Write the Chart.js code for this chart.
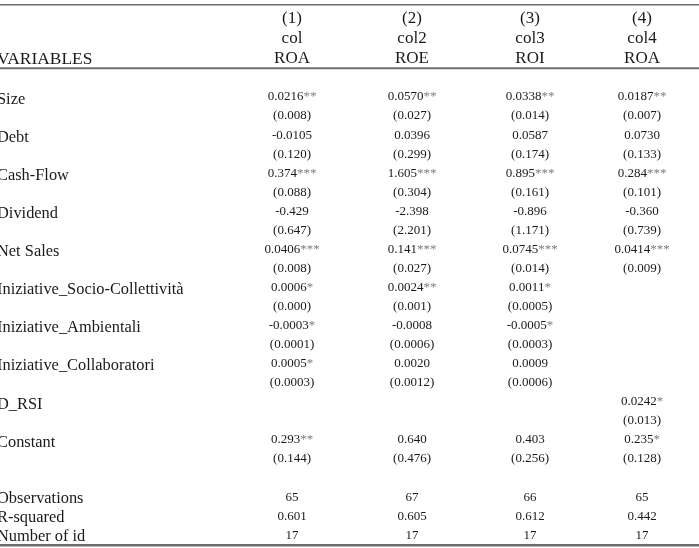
<!DOCTYPE html>
<html>
<head>
<meta charset="utf-8">
<script src="https://cdn.jsdelivr.net/npm/chart.js@4/dist/chart.umd.min.js"></script>
<style>
  html, body { margin: 0; padding: 0; background: #ffffff; }
  #wrap { width: 699px; height: 548px; position: relative; }
</style>
</head>
<body>
<div id="wrap"><canvas id="c"></canvas></div>
<script>
// ---------- DATA ----------
const variables = ['Size', 'Debt', 'Cash-Flow', 'Dividend', 'Net Sales',
  'Iniziative_Socio-Collettività', 'Iniziative_Ambientali', 'Iniziative_Collaboratori',
  'D_RSI', 'Constant'];
const headerVarLabel = 'VARIABLES';
const colNumbers = ['(1)', '(2)', '(3)', '(4)'];
const colNames = ['col', 'col2', 'col3', 'col4'];
const depVars = ['ROA', 'ROE', 'ROI', 'ROA'];

const coef1 = ['0.0216', '-0.0105', '0.374', '-0.429', '0.0406', '0.0006', '-0.0003', '0.0005', '', '0.293'];
const stars1 = ['**', '', '***', '', '***', '*', '*', '*', '', '**'];
const se1 = ['(0.008)', '(0.120)', '(0.088)', '(0.647)', '(0.008)', '(0.000)', '(0.0001)', '(0.0003)', '', '(0.144)'];

const coef2 = ['0.0570', '0.0396', '1.605', '-2.398', '0.141', '0.0024', '-0.0008', '0.0020', '', '0.640'];
const stars2 = ['**', '', '***', '', '***', '**', '', '', '', ''];
const se2 = ['(0.027)', '(0.299)', '(0.304)', '(2.201)', '(0.027)', '(0.001)', '(0.0006)', '(0.0012)', '', '(0.476)'];

const coef3 = ['0.0338', '0.0587', '0.895', '-0.896', '0.0745', '0.0011', '-0.0005', '0.0009', '', '0.403'];
const stars3 = ['**', '', '***', '', '***', '*', '*', '', '', ''];
const se3 = ['(0.014)', '(0.174)', '(0.161)', '(1.171)', '(0.014)', '(0.0005)', '(0.0003)', '(0.0006)', '', '(0.256)'];

const coef4 = ['0.0187', '0.0730', '0.284', '-0.360', '0.0414', '', '', '', '0.0242', '0.235'];
const stars4 = ['**', '', '***', '', '***', '', '', '', '*', '*'];
const se4 = ['(0.007)', '(0.133)', '(0.101)', '(0.739)', '(0.009)', '', '', '', '(0.013)', '(0.128)'];

const statLabels = ['Observations', 'R-squared', 'Number of id'];
const observations = ['65', '67', '66', '65'];
const rSquared = ['0.601', '0.605', '0.612', '0.442'];
const numberOfId = ['17', '17', '17', '17'];

// ---------- LAYOUT (positions in scale units = pixels) ----------
const W = 699, H = 548;
const colX = [292, 412, 530, 642];
const labelX = -3;
const headerY = [18.5, 39, 59];
const bodyTop = 97, rowStep = 19.05;
const statY = [498, 517, 536];
const ruleY = [{ y: 4.7, w: 1.6 }, { y: 68.3, w: 2 }, { y: 545.3, w: 2.6 }];

const FONT = '"Liberation Serif", "Times New Roman", serif';
const TEXT = '#1a1a1a';
const STAR = '#7d7d7d';
const RULE = '#6e6e6e';

const coefs = [coef1, coef2, coef3, coef4];
const starsAll = [stars1, stars2, stars3, stars4];
const ses = [se1, se2, se3, se4];
const stats = [observations, rSquared, numberOfId];

function buildCells() {
  const cells = [];
  cells.push({ x: labelX, y: headerY[2], t: headerVarLabel, kind: 'hlabel' });
  for (let j = 0; j < 4; j++) {
    cells.push({ x: colX[j], y: headerY[0], t: colNumbers[j], kind: 'head' });
    cells.push({ x: colX[j], y: headerY[1], t: colNames[j], kind: 'head' });
    cells.push({ x: colX[j], y: headerY[2], t: depVars[j], kind: 'head' });
  }
  for (let i = 0; i < variables.length; i++) {
    const yc = bodyTop + rowStep * (2 * i);
    const ys = bodyTop + rowStep * (2 * i + 1);
    cells.push({ x: labelX, y: yc, t: variables[i], kind: 'label' });
    for (let j = 0; j < 4; j++) {
      if (coefs[j][i] !== '') cells.push({ x: colX[j], y: yc, t: coefs[j][i], s: starsAll[j][i], kind: 'val' });
      if (ses[j][i] !== '') cells.push({ x: colX[j], y: ys, t: ses[j][i], kind: 'val' });
    }
  }
  for (let k = 0; k < statLabels.length; k++) {
    cells.push({ x: labelX, y: statY[k], t: statLabels[k], kind: 'slabel' });
    for (let j = 0; j < 4; j++) cells.push({ x: colX[j], y: statY[k], t: stats[k][j], kind: 'val' });
  }
  return cells;
}
const cells = buildCells();

const styles = {
  head:   { size: 17, dy: 0 },
  hlabel: { size: 17.4, dy: 0 },
  label:  { size: 16.4, dy: 2.5 },
  slabel: { size: 16.4, dy: 0.5 },
  val:    { size: 13, dy: 0 }
};

const tablePlugin = {
  id: 'tablePlugin',
  afterDatasetsDraw(chart) {
    const ctx = chart.ctx;
    const xs = chart.scales.x, ys = chart.scales.y;
    ctx.save();
    ctx.strokeStyle = RULE;
    ruleY.forEach(r => {
      const py = ys.getPixelForValue(r.y);
      ctx.lineWidth = r.w;
      ctx.beginPath();
      ctx.moveTo(xs.getPixelForValue(0), py);
      ctx.lineTo(xs.getPixelForValue(W), py);
      ctx.stroke();
    });
    ctx.restore();
    const meta = chart.getDatasetMeta(0);
    ctx.save();
    ctx.textBaseline = 'middle';
    ctx.textAlign = 'left';
    meta.data.forEach((pt, idx) => {
      const c = cells[idx];
      const st = styles[c.kind];
      ctx.font = st.size + 'px ' + FONT;
      const px = pt.x, py = pt.y + st.dy;
      if (c.kind === 'label' || c.kind === 'hlabel' || c.kind === 'slabel') {
        ctx.fillStyle = TEXT;
        ctx.fillText(c.t, px, py);
      } else {
        const w1 = ctx.measureText(c.t).width;
        const w2 = c.s ? ctx.measureText(c.s).width : 0;
        const x0 = px - (w1 + w2) / 2;
        ctx.fillStyle = TEXT;
        ctx.fillText(c.t, x0, py);
        if (c.s) {
          ctx.fillStyle = STAR;
          ctx.fillText(c.s, x0 + w1, py);
        }
      }
    });
    ctx.restore();
  }
};

new Chart(document.getElementById('c'), {
  type: 'scatter',
  data: {
    datasets: [{
      data: cells.map(c => ({ x: c.x, y: c.y })),
      pointRadius: 0,
      pointHoverRadius: 0,
      showLine: false
    }]
  },
  options: {
    responsive: true,
    maintainAspectRatio: false,
    animation: false,
    events: [],
    layout: { padding: 0 },
    plugins: { legend: { display: false }, tooltip: { enabled: false } },
    scales: {
      x: { type: 'linear', min: 0, max: W, display: false },
      y: { type: 'linear', min: 0, max: H, reverse: true, display: false }
    }
  },
  plugins: [tablePlugin]
});
</script>
</body>
</html>
